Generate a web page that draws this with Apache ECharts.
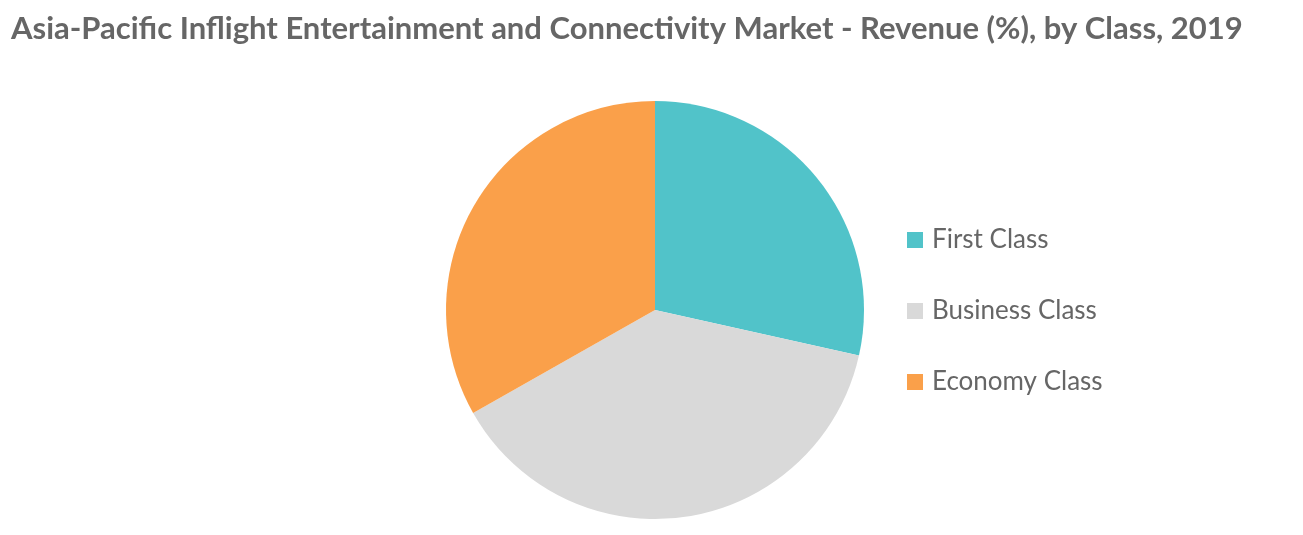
<!DOCTYPE html>
<html>
<head>
<meta charset="utf-8">
<script src="https://cdn.jsdelivr.net/npm/echarts@6/dist/echarts.min.js"></script>
<style>html,body{margin:0;padding:0;background:#fff}#main{width:1303px;height:535px}</style>
</head>
<body>
<div id="main"></div>
<script>
const categories = ['First Class', 'Business Class', 'Economy Class'];
const shares = [28.5, 38.3, 33.2];
const colors = ['#51c3c9', '#d9d9d9', '#faa04a'];

const myChart = echarts.init(document.getElementById('main'));

const option = {
  title: {
    text: 'Asia-Pacific Inflight Entertainment and Connectivity Market - Revenue (%), by Class, 2019',
    left: 6, top: 8,
    textStyle: { fontFamily: 'Lato', fontSize: 31, fontWeight: 'bold', color: '#666' }
  },
  legend: {
    orient: 'vertical',
    left: 902, top: 222,
    itemWidth: 16, itemHeight: 16, itemGap: 45,
    icon: 'rect',
    textStyle: { fontFamily: 'Lato', fontSize: 26, color: '#666', padding: [0, 0, 0, 4] },
    data: categories
  },
  series: [{
    type: 'pie',
    center: [655, 310],
    radius: 209,
    startAngle: 90,
    clockwise: true,
    label: { show: false },
    labelLine: { show: false },
    emphasis: { disabled: true },
    data: categories.map((c, i) => ({ name: c, value: shares[i], itemStyle: { color: colors[i] } }))
  }]
};

myChart.setOption(option);
</script>
</body>
</html>
